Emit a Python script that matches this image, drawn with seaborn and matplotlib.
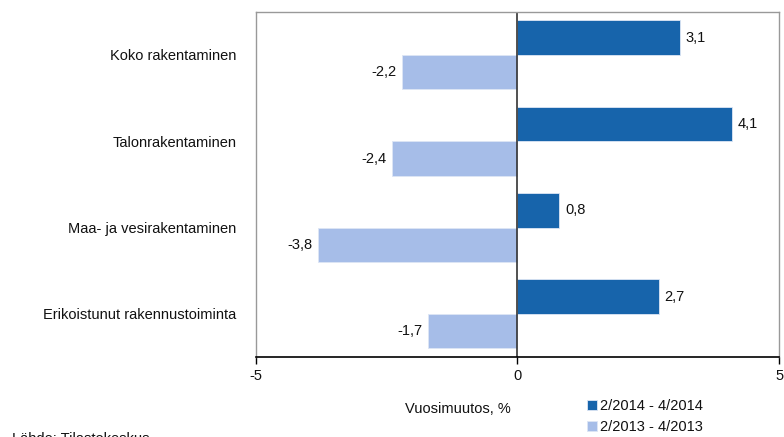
import matplotlib
matplotlib.use('Agg')
import matplotlib.pyplot as plt
import seaborn as sns
import pandas as pd

categories = ['Koko rakentaminen', 'Talonrakentaminen', 'Maa- ja vesirakentaminen',
              'Erikoistunut rakennustoiminta']
series_names = ['2/2014 - 4/2014', '2/2013 - 4/2013']
vals_2014 = [3.1, 4.1, 0.8, 2.7]
vals_2013 = [-2.2, -2.4, -3.8, -1.7]
colors = ['#1764ab', '#a6bde8']

df = pd.DataFrame({
    'cat': categories * 2,
    'series': [series_names[0]] * 4 + [series_names[1]] * 4,
    'val': vals_2014 + vals_2013,
})

sns.set_style('white')
plt.rcParams['font.family'] = ['Liberation Sans', 'DejaVu Sans']

fig = plt.figure(figsize=(7.84, 4.37), dpi=100)
ax = fig.add_axes([0.326, 0.183, 0.668, 0.790])

sns.barplot(data=df, x='val', y='cat', hue='series', palette=colors, orient='h',
            width=0.8, saturation=1, edgecolor='#dde6f5', linewidth=0.6,
            ax=ax, legend=True)

for cont in ax.containers:
    labels = [f"{v:.1f}".replace('.', ',') for v in cont.datavalues]
    ax.bar_label(cont, labels=labels, padding=4, fontsize=10.5, color='#111111')

ax.set_xlim(-5, 5)
ax.set_xticks([-5, 0, 5])
ax.set_xticklabels(['-5', '0', '5'], fontsize=10.5, color='#111111')
ax.tick_params(axis='x', length=5, width=1, color='black', direction='out', bottom=True)
ax.tick_params(axis='y', length=0, labelsize=10.5, pad=14, labelcolor='#111111')
ax.set_ylabel('')
ax.set_xlabel('')
ax.axvline(0, color='#333333', lw=1.2)

for s in ['top', 'right', 'left']:
    ax.spines[s].set_color('#999999')
    ax.spines[s].set_linewidth(1)
ax.spines['bottom'].set_color('black')
ax.spines['bottom'].set_linewidth(1.2)

leg = ax.legend(loc='upper left', bbox_to_anchor=(0.622, -0.105), frameon=False,
                fontsize=10.5, handlelength=0.7, handleheight=0.7, handletextpad=0.2,
                labelspacing=0.5, borderaxespad=0)
for t in leg.get_texts():
    t.set_color('#111111')

fig.text(0.517, 0.065, 'Vuosimuutos, %', fontsize=10.5, ha='left', va='center', color='#111111')
fig.text(0.015, -0.005, 'Lähde: Tilastokeskus', fontsize=10.5, ha='left', va='center', color='#111111')

fig.savefig('out.png', dpi=100)
